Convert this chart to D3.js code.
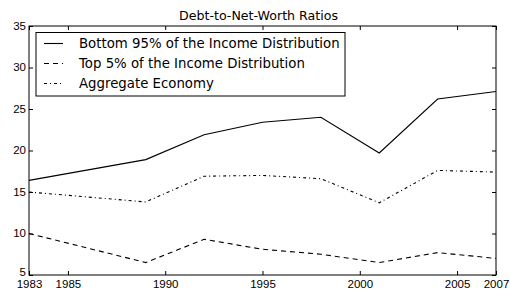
<!DOCTYPE html>
<html>
<head>
<meta charset="utf-8">
<script src="https://cdn.jsdelivr.net/npm/d3@7"></script>
<style>
  body { margin: 0; background: #fff; }
  svg { font-family: "DejaVu Sans", sans-serif; }
</style>
</head>
<body>
<svg id="chart" width="510" height="290"></svg>
<script>
var years = [1983, 1989, 1992, 1995, 1998, 2001, 2004, 2007];
var bottom95 = [16.4, 18.9, 21.9, 23.4, 24.0, 19.7, 26.2, 27.1];
var top5 = [10.0, 6.5, 9.3, 8.1, 7.5, 6.5, 7.7, 7.0];
var aggregate = [15.0, 13.8, 16.9, 17.0, 16.6, 13.7, 17.6, 17.4];
var xTicks = [1983, 1985, 1990, 1995, 2000, 2005, 2007];
var yTicks = [5, 10, 15, 20, 25, 30, 35];
var seriesNames = ['Bottom 95% of the Income Distribution', 'Top 5% of the Income Distribution', 'Aggregate Economy'];

var margin = {left: 29, right: 14, top: 26, bottom: 15};
var svg = d3.select('#chart');
var width = 510 - margin.left - margin.right;
var height = 290 - margin.top - margin.bottom;

var x = d3.scaleLinear().domain([1983, 2007]).range([0, width]);
var y = d3.scaleLinear().domain([5, 35]).range([height, 0]);

var g = svg.append('g').attr('transform', 'translate(' + margin.left + ',' + margin.top + ')');

// inward ticks on all four sides, labels only bottom/left
function styleAxis(sel, labels) {
    sel.select('.domain').remove();
    sel.selectAll('line').attr('stroke', '#000');
    sel.selectAll('text').attr('fill', '#000').style('font-size', '11.5px');
    if (!labels) sel.selectAll('text').remove();
}

g.append('g').attr('transform', 'translate(0,' + height + ')')
    .call(d3.axisBottom(x).tickValues(xTicks).tickFormat(d3.format('d')).tickSize(-4).tickPadding(5))
    .call(styleAxis, true);
g.append('g')
    .call(d3.axisTop(x).tickValues(xTicks).tickSize(-4))
    .call(styleAxis, false);
g.append('g')
    .call(d3.axisLeft(y).tickValues(yTicks).tickSize(-4).tickPadding(3))
    .call(styleAxis, true)
    .selectAll('text')
    // lowest label sits a little higher so it clears "1983"
    .attr('dy', function(d) { return d === 5 ? '0.02em' : '0.28em'; });
g.append('g').attr('transform', 'translate(' + width + ',0)')
    .call(d3.axisRight(y).tickValues(yTicks).tickSize(-4))
    .call(styleAxis, false);

g.append('rect')
    .attr('width', width).attr('height', height)
    .attr('fill', 'none').attr('stroke', '#000').attr('stroke-width', 1);

var dashes = [null, '5,4', '3,3,1,3'];
var series = [bottom95, top5, aggregate];

var line = d3.line()
    .x(function(d, i) { return x(years[i]); })
    .y(function(d) { return y(d); });

series.forEach(function(values, i) {
    g.append('path')
        .datum(values)
        .attr('d', line)
        .attr('fill', 'none')
        .attr('stroke', '#000')
        .attr('stroke-width', 1.1)
        .attr('stroke-dasharray', dashes[i]);
});

// title
svg.append('text')
    .attr('x', 258.5)
    .attr('y', 20)
    .attr('text-anchor', 'middle')
    .style('font-size', '12.6px')
    .text('Debt-to-Net-Worth Ratios');

// legend
var legend = svg.append('g').attr('transform', 'translate(36,32.5)');
legend.append('rect')
    .attr('width', 309).attr('height', 63.5)
    .attr('fill', '#fff').attr('stroke', '#000').attr('stroke-width', 1);

var rows = legend.selectAll('g.row')
    .data(seriesNames)
    .enter().append('g')
    .attr('class', 'row')
    .attr('transform', function(d, i) { return 'translate(0,' + (11 + i * 20) + ')'; });

rows.append('line')
    .attr('x1', 8).attr('x2', 27)
    .attr('stroke', '#000').attr('stroke-width', 1.1)
    .attr('stroke-dasharray', function(d, i) { return dashes[i]; });

rows.append('text')
    .attr('x', 43)
    .attr('dy', '0.35em')
    .style('font-size', '13.3px')
    .text(function(d) { return d; });
</script>
</body>
</html>
